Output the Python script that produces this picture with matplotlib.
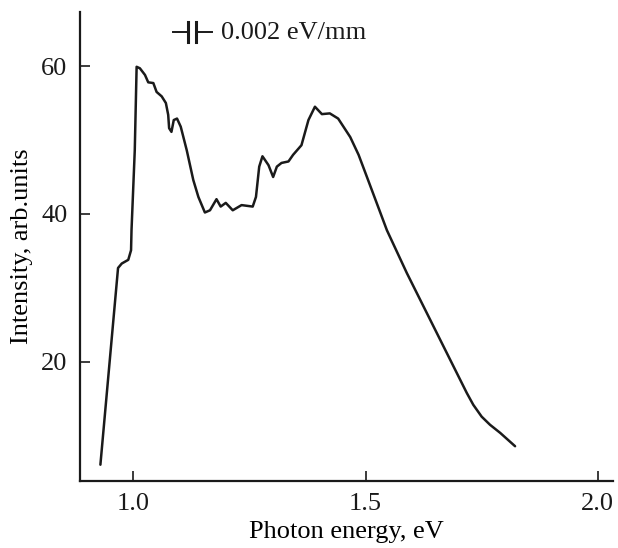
import numpy as np
import matplotlib
matplotlib.use("Agg")
import matplotlib.pyplot as plt
from matplotlib.lines import Line2D

# ── data ──────────────────────────────────────────────────
energy = [0.929, 0.967, 0.975, 0.989, 0.995, 0.996, 1.003, 1.007, 1.014, 1.025,
          1.032, 1.043, 1.050, 1.061, 1.070, 1.075, 1.077, 1.082, 1.087, 1.094,
          1.102, 1.115, 1.129, 1.140, 1.154, 1.165, 1.179, 1.188, 1.199, 1.214,
          1.233, 1.257, 1.264, 1.271, 1.278, 1.291, 1.301, 1.309, 1.319, 1.334,
          1.344, 1.362, 1.377, 1.391, 1.406, 1.423, 1.441, 1.467, 1.485, 1.503,
          1.546, 1.589, 1.632, 1.675, 1.718, 1.732, 1.750, 1.768, 1.790, 1.822]
intensity = [6.1, 32.7, 33.3, 33.8, 35.1, 37.8, 48.6, 59.9, 59.7, 58.8,
             57.8, 57.7, 56.5, 55.9, 55.0, 53.4, 51.6, 51.1, 52.7, 52.9,
             51.8, 48.6, 44.6, 42.3, 40.2, 40.5, 42.0, 41.0, 41.5, 40.5,
             41.2, 41.0, 42.3, 46.4, 47.8, 46.6, 45.0, 46.4, 46.9, 47.1,
             48.0, 49.3, 52.7, 54.5, 53.5, 53.6, 52.9, 50.4, 48.0, 45.0,
             37.8, 32.0, 26.6, 21.2, 15.8, 14.2, 12.6, 11.5, 10.4, 8.6]
x_ticks = [1.0, 1.5, 2.0]
y_ticks = [20, 40, 60]

plt.rcParams["font.family"] = ["Liberation Serif", "DejaVu Serif"]

fig = plt.figure(figsize=(6.18, 5.48), dpi=100)
ax = fig.add_axes([0.1294, 0.1223, 0.8626, 0.8557])

ax.plot(energy, intensity, color="#1a1a1a", lw=1.8,
        solid_joinstyle="round", solid_capstyle="round")

ax.set_xlim(0.885, 2.033)
ax.set_ylim(3.9, 67.3)
ax.set_xticks(x_ticks)
ax.set_xticklabels([f"{v:.1f}" for v in x_ticks])
ax.set_yticks(y_ticks)

for s in ["top", "right"]:
    ax.spines[s].set_visible(False)
for s in ["left", "bottom"]:
    ax.spines[s].set_linewidth(1.6)
    ax.spines[s].set_color("#1a1a1a")

ax.tick_params(direction="in", length=7, width=1.2, labelsize=19, pad=9,
               colors="#1a1a1a")
ax.set_xlabel("Photon energy, eV", fontsize=19, labelpad=4)
ax.set_ylabel("Intensity, arb.units", fontsize=19, labelpad=6)

# ── resolution symbol (capacitor-like bar) ─────────────────
W, H = 618, 548
def fx(px): return px / W
def fy(py): return 1 - py / H
kw = dict(color="#1a1a1a", lw=1.4)
fig.add_artist(Line2D([fx(173), fx(188)], [fy(32), fy(32)], **kw))
fig.add_artist(Line2D([fx(196), fx(212)], [fy(32), fy(32)], **kw))
fig.add_artist(Line2D([fx(188), fx(188)], [fy(22), fy(42)], color="#1a1a1a", lw=2.2))
fig.add_artist(Line2D([fx(196), fx(196)], [fy(22), fy(42)], color="#1a1a1a", lw=2.2))
fig.text(fx(221), fy(33), "0.002 eV/mm", fontsize=19, va="center", ha="left",
         color="#1a1a1a")

fig.savefig("out.png", dpi=100)
